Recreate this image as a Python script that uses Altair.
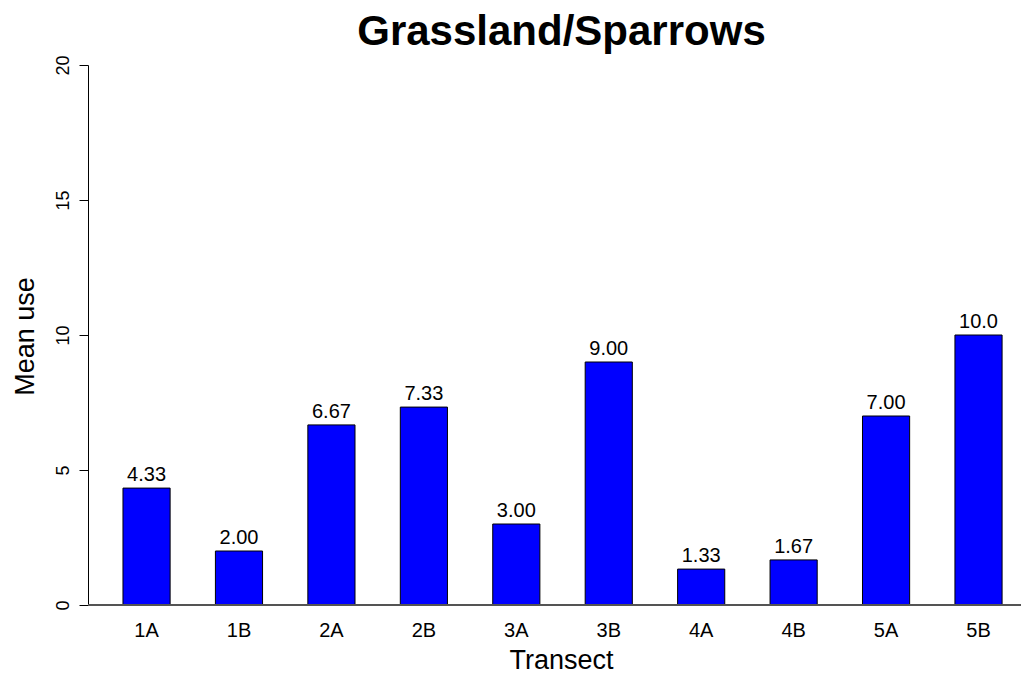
import altair as alt
import pandas as pd

transects = ["1A", "1B", "2A", "2B", "3A", "3B", "4A", "4B", "5A", "5B"]
mean_use = [4.33, 2.00, 6.67, 7.33, 3.00, 9.00, 1.33, 1.67, 7.00, 10.0]
value_labels = ["4.33", "2.00", "6.67", "7.33", "3.00", "9.00", "1.33", "1.67", "7.00", "10.0"]
y_ticks = [0, 5, 10, 15, 20]

df = pd.DataFrame({"Transect": transects, "Mean use": mean_use, "label": value_labels})

FONT = "Liberation Sans"

x_enc = alt.X(
    "Transect:N",
    sort=transects,
    scale=alt.Scale(paddingInner=0.49, paddingOuter=0.2915, align=0.649, round=False),
    axis=alt.Axis(
        title="Transect",
        domain=False,
        ticks=False,
        tickSize=0,
        labelAngle=0,
        labelFontSize=20,
        labelPadding=31,
        labelBaseline="alphabetic",
        labelColor="black",
        labelFont=FONT,
        titleFont=FONT,
        titleFontSize=27,
        titleFontWeight="normal",
        titleColor="black",
        titleX=473,
        titleY=63,
        titleAlign="center",
        titleBaseline="alphabetic",
    ),
)

y_enc = alt.Y(
    "Mean use:Q",
    scale=alt.Scale(domain=[0, 20], nice=False, zero=True),
    axis=alt.Axis(
        values=y_ticks,
        title="Mean use",
        grid=False,
        domainColor="black",
        tickColor="black",
        tickSize=9,
        labelAngle=270,
        labelAlign="center",
        labelBaseline="alphabetic",
        labelPadding=11,
        labelFontSize=18,
        labelColor="black",
        labelFont=FONT,
        titleFont=FONT,
        titleFontSize=27,
        titleFontWeight="normal",
        titleColor="black",
        titleAngle=270,
        titleX=-55,
        titleY=271,
        titleAlign="center",
        titleBaseline="alphabetic",
    ),
)

base = alt.Chart(df)

bars = base.mark_bar(color="#0000FF", stroke="black", strokeWidth=1).encode(x=x_enc, y=y_enc)

rule = base.mark_rule(color="#555555", strokeWidth=1.5).encode(y=alt.datum(0))

text = base.mark_text(dy=-7, baseline="alphabetic", fontSize=20, font=FONT, color="black").encode(
    x=x_enc, y=y_enc, text="label:N"
)

chart = (
    alt.layer(bars, rule, text)
    .properties(
        width=933,
        height=540,
        padding={"left": 80, "top": 57, "right": 0, "bottom": 68},
        autosize=alt.AutoSizeParams(type="none"),
        title=alt.TitleParams(
            "Grassland/Sparrows",
            fontSize=42,
            fontWeight="bold",
            font=FONT,
            color="black",
            anchor="middle",
            dx=7,
            dy=44,
            offset=12,
            baseline="alphabetic",
        ),
    )
    .configure_view(stroke="transparent")
)

chart.save("out.html", embed_options={"renderer": "svg", "actions": False})
